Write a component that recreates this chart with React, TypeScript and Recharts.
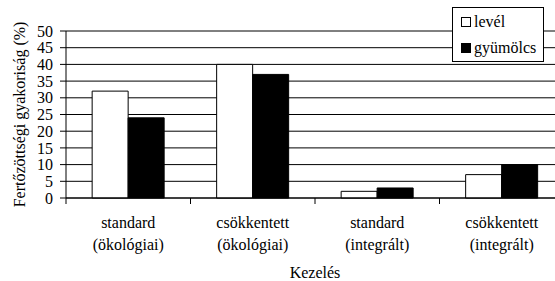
import React from 'react';
import { BarChart, Bar, XAxis, YAxis, CartesianGrid, Legend, Label } from 'recharts';

const categoriesLine1 = ['standard', 'csökkentett', 'standard', 'csökkentett'];
const categoriesLine2 = ['(ökológiai)', '(ökológiai)', '(integrált)', '(integrált)'];
const levelValues = [32, 40, 2, 7];
const gyumolcsValues = [24, 37, 3, 10];
const yTicks = [0, 5, 10, 15, 20, 25, 30, 35, 40, 45, 50];
const seriesNames = { level: 'levél', gyumolcs: 'gyümölcs' };
const yTitle = 'Fertőzöttségi gyakoriság (%)';
const xTitle = 'Kezelés';

const data = categoriesLine1.map((c, i) => ({
  name: `${c} ${categoriesLine2[i]}`,
  top: c,
  bottom: categoriesLine2[i],
  level: levelValues[i],
  gyumolcs: gyumolcsValues[i],
}));

const FONT = "'Liberation Serif', 'Times New Roman', Tinos, 'DejaVu Serif', serif";

const CatTick = (props: any) => {
  const { x, y, payload } = props;
  const d = data[payload.index];
  const off = payload.offset || 0;
  const y0 = props.axisY;
  return (
    <g>
      <line x1={x - off} x2={x - off} y1={y0} y2={y0 + 6} stroke="#000" />
      <text x={x} y={y0 + 30} textAnchor="middle" fontFamily={FONT} fontSize={16} fill="#000">{d.top}</text>
      <text x={x} y={y0 + 52} textAnchor="middle" fontFamily={FONT} fontSize={16} fill="#000">{d.bottom}</text>
    </g>
  );
};

const LegendBox = () => {
  const items = [
    { key: 'level', label: seriesNames.level, fill: '#fff' },
    { key: 'gyumolcs', label: seriesNames.gyumolcs, fill: '#000' },
  ];
  return (
    <div style={{ border: '1px solid #000', background: '#fff', width: 90, paddingTop: 1, fontFamily: FONT, fontSize: 16, color: '#000', lineHeight: '26px' }}>
      {items.map((p) => (
        <div key={p.key} style={{ display: 'flex', alignItems: 'center', height: 26, paddingLeft: 8 }}>
          <span style={{ display: 'inline-block', width: 8, height: 8, border: '1px solid #000', background: p.fill, marginRight: 3 }} />
          <span>{p.label}</span>
        </div>
      ))}
    </div>
  );
};

export default function App() {
  const plotBottom = 198;
  return (
    <div style={{ position: 'absolute', left: 0, top: 0, width: 555, height: 281, overflow: 'hidden', background: '#fff' }}>
      <BarChart
        width={575}
        height={281}
        data={data}
        margin={{ top: 31, right: 11, bottom: 23, left: 0 }}
        barCategoryGap="21%"
        barGap={0}
      >
        <CartesianGrid vertical={false} stroke="#000" strokeWidth={1} />
        <XAxis
          dataKey="name"
          height={60}
          tickLine={false}
          axisLine={{ stroke: '#000' }}
          tick={<CatTick axisY={plotBottom} />}
          interval={0}
        >
          <Label
            content={(p: any) => {
              const vb = p.viewBox;
              return (
                <text x={vb.x + vb.width / 2} y={vb.y + 80} textAnchor="middle" fontFamily={FONT} fontSize={16} fill="#000">{xTitle}</text>
              );
            }}
          />
        </XAxis>
        <YAxis
          width={66}
          domain={[0, 50]}
          ticks={yTicks}
          interval={0}
          tickSize={6}
          tickMargin={7}
          tickLine={{ stroke: '#000' }}
          axisLine={{ stroke: '#000' }}
          tick={{ fontFamily: FONT, fontSize: 16, fill: '#000' }}
        >
          <Label
            content={(p: any) => {
              const vb = p.viewBox;
              const cy = vb.y + vb.height / 2;
              return (
                <text x={25} y={cy} transform={`rotate(-90, 25, ${cy})`} textAnchor="middle" fontFamily={FONT} fontSize={16} fill="#000">{yTitle}</text>
              );
            }}
          />
        </YAxis>
        <Legend
          layout="vertical"
          align="center"
          verticalAlign="middle"
          content={<LegendBox />}
          wrapperStyle={{ position: 'absolute', left: 452, top: 7, width: 'auto', height: 'auto' }}
        />
        <Bar dataKey="level" name={seriesNames.level} fill="#fff" stroke="#000" strokeWidth={1} isAnimationActive={false} />
        <Bar dataKey="gyumolcs" name={seriesNames.gyumolcs} fill="#000" stroke="#000" strokeWidth={1} isAnimationActive={false} />
      </BarChart>
    </div>
  );
}
